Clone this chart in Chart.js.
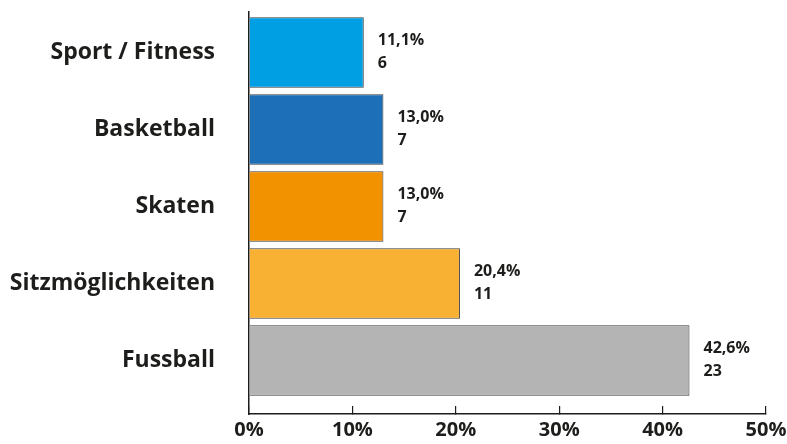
<!DOCTYPE html>
<html lang="de">
<head>
  <meta charset="UTF-8">
  <title>Wünsche</title>
  <script src="https://cdn.jsdelivr.net/npm/chart.js"></script>
  <style>
    body { margin: 0; background: #fff; }
    #wrap { width: 787px; height: 444px; }
  </style>
</head>
<body>
  <div id="wrap"><canvas id="chart"></canvas></div>
  <script>
    const categories = ['Sport / Fitness', 'Basketball', 'Skaten', 'Sitzmöglichkeiten', 'Fussball'];
    const percents = [11.1, 13.0, 13.0, 20.4, 42.6];
    const counts = [6, 7, 7, 11, 23];
    const colors = ['#009fe3', '#1d70b7', '#f39200', '#f8b133', '#b4b4b4'];
    const xTicks = [0, 10, 20, 30, 40, 50];

    const fmt = v => v.toFixed(1).replace('.', ',') + '%';

    // Prozent + Anzahl rechts neben jedem Balken
    const barLabels = {
      id: 'barLabels',
      afterDatasetsDraw(chart) {
        const ctx = chart.ctx;
        const meta = chart.getDatasetMeta(0);
        ctx.save();
        ctx.fillStyle = '#1d1d1b';
        ctx.font = 'bold 16px "Open Sans"';
        ctx.textBaseline = 'middle';
        meta.data.forEach((bar, i) => {
          const x = bar.x + 14;
          ctx.fillText(fmt(percents[i]), x, bar.y - 12);
          ctx.fillText(String(counts[i]), x, bar.y + 11);
        });
        ctx.restore();
      }
    };

    new Chart(document.getElementById('chart'), {
      type: 'bar',
      data: {
        datasets: [{
          data: percents.map((p, i) => ({ x: p, y: i })),
          backgroundColor: colors,
          borderColor: '#3a3a3a',
          borderWidth: 1,
          barPercentage: 0.915,
          categoryPercentage: 1
        }]
      },
      options: {
        indexAxis: 'y',
        responsive: true,
        maintainAspectRatio: false,
        animation: false,
        layout: { padding: { top: 12, right: 21, left: 0, bottom: 0 } },
        plugins: { legend: { display: false }, tooltip: { enabled: false } },
        scales: {
          x: {
            type: 'linear',
            min: 0,
            max: 50,
            afterBuildTicks: s => { s.ticks = xTicks.map(v => ({ value: v })); },
            afterFit: s => { s.height = 30; s.paddingLeft = 0; s.paddingRight = 0; },
            grid: { drawOnChartArea: false, drawTicks: true, tickLength: -8, color: '#1d1d1b', lineWidth: 1.2 },
            border: { display: true, color: '#1d1d1b', width: 1.5 },
            ticks: {
              padding: 12,
              color: '#1d1d1b',
              font: { family: 'Open Sans', weight: 'bold', size: 20 },
              callback: v => v + '%',
              maxRotation: 0
            }
          },
          y: {
            type: 'linear',
            reverse: true,
            offset: false,
            min: -0.526,
            max: 4.695,
            afterBuildTicks: s => { s.ticks = categories.map((c, i) => ({ value: i })); },
            afterFit: s => { s.width = 249; s.paddingTop = 0; s.paddingBottom = 0; },
            grid: { display: false, offset: false },
            border: { display: true, color: '#1d1d1b', width: 1.5 },
            ticks: {
              padding: 26,
              color: '#1d1d1b',
              font: { family: 'Open Sans', weight: 'bold', size: 23 },
              callback: v => categories[v]
            }
          }
        }
      },
      plugins: [barLabels]
    });
  </script>
</body>
</html>
